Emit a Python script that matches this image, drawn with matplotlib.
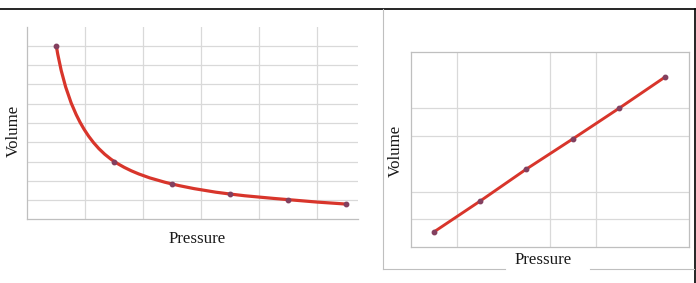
import numpy as np
import matplotlib
matplotlib.use('Agg')
import matplotlib.pyplot as plt
from matplotlib.path import Path
from matplotlib.patches import PathPatch
from matplotlib.lines import Line2D

# ===== DATA =====
# left panel: Boyle's law, volume falls as pressure rises
boyle_pressure = [0.5, 1.5, 2.5, 3.5, 4.5, 5.5]
boyle_volume = [9.0, 3.0, 1.83, 1.31, 1.02, 0.79]
# right panel: straight line
linear_pressure = [0.5, 1.5, 2.5, 3.5, 4.5, 5.5]
linear_volume = [0.55, 1.66, 2.81, 3.89, 4.99, 6.12]

x_label = 'Pressure'
y_label = 'Volume'
# ======================================

LINE_RED = '#d8352b'
MARKER = '#83405f'
GRID = '#d9d9d9'
AXIS = '#bfbfbf'
FONT = 'Liberation Serif'

W, H = 696, 283
fig = plt.figure(figsize=(W / 100, H / 100), dpi=100)


def fx(px):
    return px / W


def fy(py):
    return 1 - py / H


def smooth_path(ax, x, y):
    """Excel-style smoothed line: cubic Bezier through the points.
    Tangents come from log-log slopes, handles are a third of the chord
    measured on screen, so steep segments don't overshoot."""
    x = np.asarray(x, float)
    y = np.asarray(y, float)
    lx, ly = np.log(x), np.log(y)
    n = len(x)
    s = np.empty(n)
    s[0] = (ly[1] - ly[0]) / (lx[1] - lx[0])
    s[-1] = (ly[-1] - ly[-2]) / (lx[-1] - lx[-2])
    s[1:-1] = (ly[2:] - ly[:-2]) / (lx[2:] - lx[:-2])
    m = s * y / x

    trans = ax.transData
    pts = trans.transform(np.column_stack([x, y]))
    # tangent directions in display space
    tang = trans.transform(np.column_stack([x + 0.01, y + 0.01 * m])) - pts
    tang /= np.linalg.norm(tang, axis=1)[:, None]

    verts = [pts[0]]
    codes = [Path.MOVETO]
    for i in range(n - 1):
        d = np.linalg.norm(pts[i + 1] - pts[i]) / 3
        verts += [pts[i] + d * tang[i], pts[i + 1] - d * tang[i + 1], pts[i + 1]]
        codes += [Path.CURVE4] * 3
    verts = trans.inverted().transform(np.array(verts))
    return Path(verts, codes)


# ---------- left panel ----------
ax1 = fig.add_axes([fx(27.3), fy(219.3), fx(358 - 27.3), (219.3 - 26.7) / H])
ax1.set_xlim(0, 5.7)
ax1.set_ylim(0, 10)
for v in range(1, 6):
    ax1.axvline(v, color=GRID, lw=0.9, zorder=1)
for v in range(1, 10):
    ax1.axhline(v, color=GRID, lw=0.9, zorder=1)
ax1.add_patch(PathPatch(smooth_path(ax1, boyle_pressure, boyle_volume), fill=False,
                        edgecolor=LINE_RED, lw=2.3, capstyle='round', zorder=3))
ax1.plot(boyle_pressure, boyle_volume, 'o', ms=3.2, color=MARKER, zorder=4)
for side in ['top', 'right']:
    ax1.spines[side].set_visible(False)
for side in ['left', 'bottom']:
    ax1.spines[side].set_color(AXIS)
    ax1.spines[side].set_linewidth(0.9)
ax1.set_xticks([])
ax1.set_yticks([])

# ---------- right panel ----------
ax2 = fig.add_axes([fx(410.7), fy(247.3), fx(688.5 - 410.7), (247.3 - 52.3) / H])
ax2.set_xlim(0, 6)
ax2.set_ylim(0, 7)
for v in [1, 3, 4]:
    ax2.axvline(v, color=GRID, lw=0.9, zorder=1)
for v in [1, 2, 4, 5]:
    ax2.axhline(v, color=GRID, lw=0.9, zorder=1)
ax2.plot(linear_pressure, linear_volume, '-', color=LINE_RED, lw=2.1,
         solid_capstyle='round', zorder=3)
ax2.plot(linear_pressure, linear_volume, 'o', ms=3.2, color=MARKER, zorder=4)
for side in ax2.spines:
    ax2.spines[side].set_color(AXIS)
    ax2.spines[side].set_linewidth(0.9)
ax2.set_xticks([])
ax2.set_yticks([])

# ---------- labels ----------
fig.text(fx(197), fy(242.7), x_label, ha='center', va='baseline',
         fontsize=12.2, family=FONT, color='#1a1a1a')
fig.text(fx(13.5), fy(131), y_label, ha='center', va='center', rotation=90,
         fontsize=12.2, family=FONT, color='#1a1a1a')
fig.text(fx(543), fy(264.3), x_label, ha='center', va='baseline',
         fontsize=12.2, family=FONT, color='#1a1a1a')
fig.text(fx(396), fy(151), y_label, ha='center', va='center', rotation=90,
         fontsize=12.2, family=FONT, color='#1a1a1a')

# ---------- frame lines ----------
fig.add_artist(Line2D([0, 1], [fy(9), fy(9)], color='black', lw=1.2))
fig.add_artist(Line2D([fx(694.5), fx(694.5)], [fy(9), 0], color='black', lw=1.2))
fig.add_artist(Line2D([fx(383.3), fx(383.3)], [fy(9), fy(268.5)], color=AXIS, lw=0.8))
fig.add_artist(Line2D([fx(383.3), fx(505)], [fy(268.5), fy(268.5)], color=AXIS, lw=0.8))
fig.add_artist(Line2D([fx(590), fx(694)], [fy(268.5), fy(268.5)], color=AXIS, lw=0.8))

fig.savefig('out.png', dpi=100)
plt.close('all')
